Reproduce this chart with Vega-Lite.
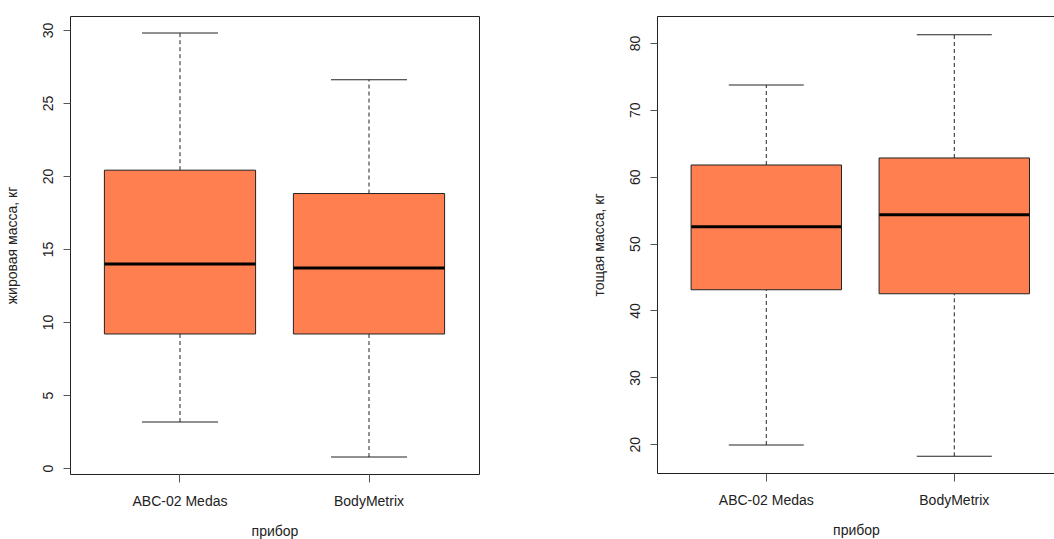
{
  "$schema": "https://vega.github.io/schema/vega-lite/v6.json",
  "padding": {"left": 4, "top": 15, "right": 0, "bottom": 0},
  "background": "white",
  "spacing": 111,
  "config": {
    "view": {"stroke": "#222", "strokeWidth": 1},
    "axis": {"grid": false, "domain": false, "labelFont": "Liberation Sans", "labelFontSize": 14, "labelColor": "#222", "tickColor": "#555", "tickWidth": 1, "titleFont": "Liberation Sans", "titleFontSize": 14, "titleFontWeight": "normal", "titleColor": "#222"},
    "axisX": {"labelAngle": 0, "tickSize": 8, "labelBaseline": "alphabetic", "labelPadding": 23, "titleBaseline": "alphabetic", "titleY": 61},
    "axisY": {"labelAngle": -90, "labelAlign": "center", "labelBaseline": "alphabetic", "tickSize": 7, "labelPadding": 11, "titleAngle": -90, "titleBaseline": "alphabetic", "titleX": -54}
  },
  "datasets": {
    "fat": [
      {"device": "ABC-02 Medas", "min": 3.15, "q1": 9.18, "median": 13.97, "q3": 20.4, "max": 29.8},
      {"device": "BodyMetrix", "min": 0.75, "q1": 9.18, "median": 13.7, "q3": 18.8, "max": 26.6}
    ],
    "lean": [
      {"device": "ABC-02 Medas", "min": 19.9, "q1": 43.1, "median": 52.5, "q3": 61.75, "max": 73.7},
      {"device": "BodyMetrix", "min": 18.2, "q1": 42.5, "median": 54.3, "q3": 62.8, "max": 81.2}
    ]
  },
  "hconcat": [
    {
      "width": 409,
      "height": 458,
      "data": {"name": "fat"},
      "encoding": {
        "x": {"field": "device", "type": "nominal", "sort": null, "scale": {"paddingInner": 0.2, "paddingOuter": 0.182, "align": 0.5}, "axis": {"title": "прибор"}}
      },
      "layer": [
        {"mark": {"type": "rule", "strokeDash": [4, 3], "color": "#222"},
         "encoding": {"y": {"field": "q3", "type": "quantitative", "title": "жировая масса, кг", "scale": {"domain": [-0.41, 30.96], "nice": false, "zero": false}, "axis": {"values": [0, 5, 10, 15, 20, 25, 30]}}, "y2": {"field": "max"}}},
        {"mark": {"type": "rule", "strokeDash": [4, 3], "color": "#222"},
         "encoding": {"y": {"field": "min", "type": "quantitative", "title": "жировая масса, кг"}, "y2": {"field": "q1"}}},
        {"mark": {"type": "tick", "size": 76, "thickness": 1, "color": "#222", "opacity": 1},
         "encoding": {"y": {"field": "max", "type": "quantitative", "title": "жировая масса, кг"}}},
        {"mark": {"type": "tick", "size": 76, "thickness": 1, "color": "#222", "opacity": 1},
         "encoding": {"y": {"field": "min", "type": "quantitative", "title": "жировая масса, кг"}}},
        {"mark": {"type": "bar", "fill": "#FF7F50", "stroke": "#222", "strokeWidth": 1, "opacity": 1},
         "encoding": {"y": {"field": "q1", "type": "quantitative", "title": "жировая масса, кг"}, "y2": {"field": "q3"}}},
        {"mark": {"type": "tick", "size": 151, "thickness": 3, "color": "black", "opacity": 1},
         "encoding": {"y": {"field": "median", "type": "quantitative", "title": "жировая масса, кг"}}}
      ]
    },
    {
      "width": 398,
      "height": 457,
      "view": {"stroke": "#222", "strokeDash": [398, 457, 1000, 0]},
      "data": {"name": "lean"},
      "encoding": {
        "x": {"field": "device", "type": "nominal", "sort": null, "scale": {"paddingInner": 0.2, "paddingOuter": 0.1585, "align": 0.572}, "axis": {"title": "прибор"}}
      },
      "layer": [
        {"mark": {"type": "rule", "strokeDash": [4, 3], "color": "#222"},
         "encoding": {"y": {"field": "q3", "type": "quantitative", "title": "тощая масса, кг", "scale": {"domain": [15.71, 84.02], "nice": false, "zero": false}, "axis": {"values": [20, 30, 40, 50, 60, 70, 80]}}, "y2": {"field": "max"}}},
        {"mark": {"type": "rule", "strokeDash": [4, 3], "color": "#222"},
         "encoding": {"y": {"field": "min", "type": "quantitative", "title": "тощая масса, кг"}, "y2": {"field": "q1"}}},
        {"mark": {"type": "tick", "size": 75, "thickness": 1, "color": "#222", "opacity": 1},
         "encoding": {"y": {"field": "max", "type": "quantitative", "title": "тощая масса, кг"}}},
        {"mark": {"type": "tick", "size": 75, "thickness": 1, "color": "#222", "opacity": 1},
         "encoding": {"y": {"field": "min", "type": "quantitative", "title": "тощая масса, кг"}}},
        {"mark": {"type": "bar", "fill": "#FF7F50", "stroke": "#222", "strokeWidth": 1, "opacity": 1},
         "encoding": {"y": {"field": "q1", "type": "quantitative", "title": "тощая масса, кг"}, "y2": {"field": "q3"}}},
        {"mark": {"type": "tick", "size": 150, "thickness": 3, "color": "black", "opacity": 1},
         "encoding": {"y": {"field": "median", "type": "quantitative", "title": "тощая масса, кг"}}}
      ]
    }
  ]
}
